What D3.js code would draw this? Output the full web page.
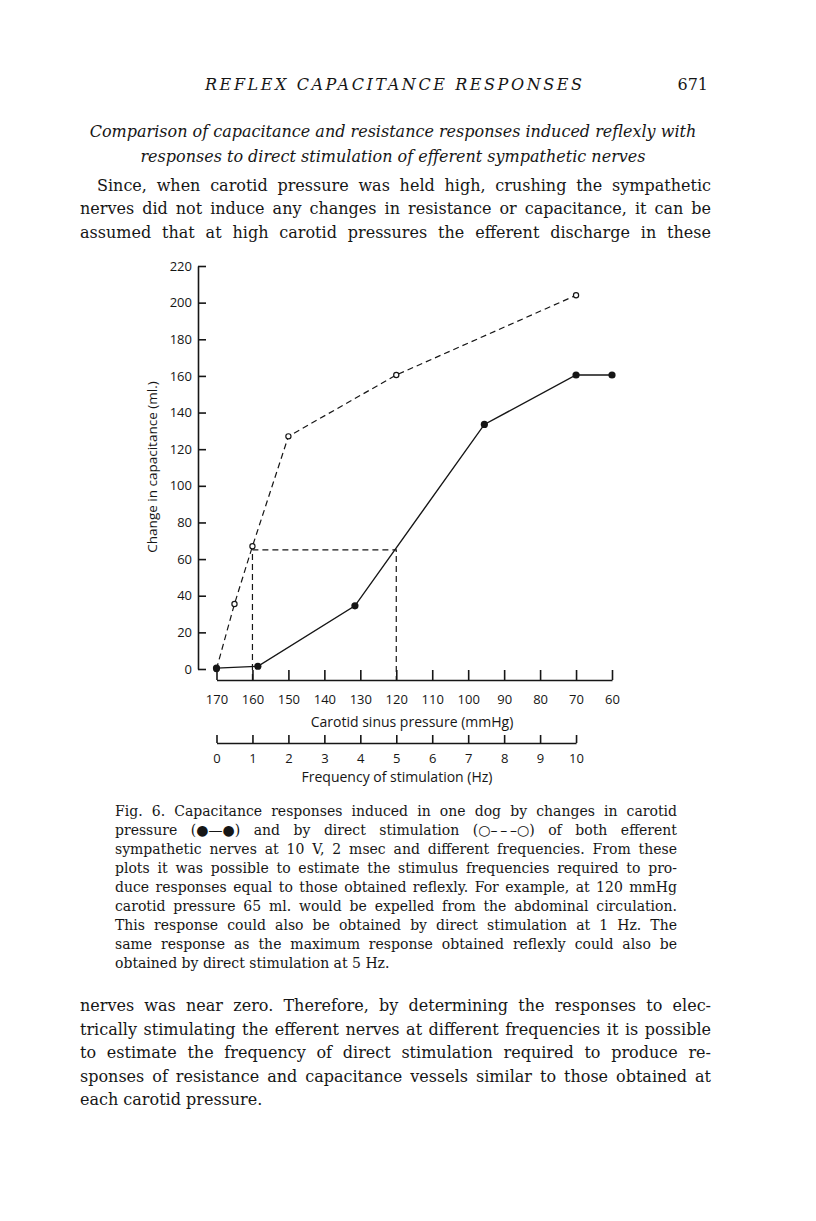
<!DOCTYPE html>
<html>
<head>
<meta charset="utf-8">
<script src="https://cdn.jsdelivr.net/npm/d3@7"></script>
<style>
  body { margin: 0; background: #fff; }
  svg text { fill: #161616; }
</style>
</head>
<body>
<div id="page"></div>
<script>
// values
const pressureMmHg = [170, 158.5, 131.5, 95.5, 70, 60];
const reflexCapacitance = [0.5, 1.5, 34.5, 133.5, 160.5, 160.5];
const stimFrequencyHz = [0, 0.5, 1, 2, 5, 10];
const stimCapacitance = [0, 35.5, 67, 127, 160.5, 204];
const guidePressures = [160, 120];
const guideCapacitance = 65;

const capacitanceTicks = [0, 20, 40, 60, 80, 100, 120, 140, 160, 180, 200, 220];
const pressureTicks = [170, 160, 150, 140, 130, 120, 110, 100, 90, 80, 70, 60];
const frequencyTicks = [0, 1, 2, 3, 4, 5, 6, 7, 8, 9, 10];

// page text
const runningHead = "REFLEX CAPACITANCE RESPONSES";
const pageNumber = "671";
const sectionHeading = [
  "Comparison of capacitance and resistance responses induced reflexly with",
  "responses to direct stimulation of efferent sympathetic nerves",
];
const textAbove = [
  "Since, when carotid pressure was held high, crushing the sympathetic",
  "nerves did not induce any changes in resistance or capacitance, it can be",
  "assumed that at high carotid pressures the efferent discharge in these",
];
const captionLines = [
  "Fig. 6. Capacitance responses induced in one dog by changes in carotid",
  "pressure (\u25CF\u2014\u25CF) and by direct stimulation (\u25CB\u2013\u2009\u2013\u2009\u2013\u25CB) of both efferent",
  "sympathetic nerves at 10 V, 2 msec and different frequencies. From these",
  "plots it was possible to estimate the stimulus frequencies required to pro-",
  "duce responses equal to those obtained reflexly. For example, at 120 mmHg",
  "carotid pressure 65 ml. would be expelled from the abdominal circulation.",
  "This response could also be obtained by direct stimulation at 1 Hz. The",
  "same response as the maximum response obtained reflexly could also be",
  "obtained by direct stimulation at 5 Hz.",
];
const textBelow = [
  "nerves was near zero. Therefore, by determining the responses to elec-",
  "trically stimulating the efferent nerves at different frequencies it is possible",
  "to estimate the frequency of direct stimulation required to produce re-",
  "sponses of resistance and capacitance vessels similar to those obtained at",
  "each carotid pressure.",
];

const serif = "'DejaVu Serif', 'Liberation Serif', serif";
const sans = "'Open Sans', Lato, sans-serif";

const svg = d3
  .select("#page")
  .append("svg")
  .attr("width", 816)
  .attr("height", 1221);

// justified block: pick a size so the tightest line just fits, then stretch word gaps
function textBlock(lines, o) {
  const probe = 20;
  const nodes = lines.map((line, i) =>
    svg
      .append("text")
      .attr("x", o.left + (i === 0 ? o.indent || 0 : 0))
      .attr("y", o.top + i * o.lead)
      .attr("font-family", serif)
      .attr("font-size", probe)
      .text(line)
  );
  const justified = (i) => !(o.raggedLast && i === lines.length - 1);
  let k = Infinity;
  nodes.forEach((t, i) => {
    if (!justified(i)) return;
    const room = o.right - +t.attr("x");
    k = Math.min(k, room / t.node().getComputedTextLength());
  });
  const size = Math.min(probe * k * 0.99, o.maxSize);
  nodes.forEach((t, i) => {
    t.attr("font-size", size);
    if (!justified(i)) return;
    const gaps = lines[i].split(" ").length - 1;
    const w = t.node().getComputedTextLength();
    t.style("word-spacing", (o.right - +t.attr("x") - w) / gaps + "px");
  });
}

// header
svg
  .append("text")
  .attr("x", 205)
  .attr("y", 90)
  .attr("font-family", serif)
  .attr("font-style", "italic")
  .attr("font-size", 16)
  .attr("textLength", 377)
  .attr("lengthAdjust", "spacing")
  .text(runningHead);
svg
  .append("text")
  .attr("x", 708)
  .attr("y", 90)
  .attr("text-anchor", "end")
  .attr("font-family", serif)
  .attr("font-size", 16)
  .text(pageNumber);

svg
  .selectAll(".heading")
  .data(sectionHeading)
  .join("text")
  .attr("class", "heading")
  .attr("x", 393)
  .attr("y", (d, i) => 137 + i * 25)
  .attr("text-anchor", "middle")
  .attr("font-family", serif)
  .attr("font-style", "italic")
  .attr("font-size", 16)
  .text((d) => d);

textBlock(textAbove, { left: 80, right: 711, indent: 17, top: 190.5, lead: 23.5, maxSize: 16 });

// ---- the chart ----
const x = d3.scaleLinear().domain([170, 60]).range([216.5, 612]);
const xHz = d3.scaleLinear().domain([0, 10]).range([x(170), x(70)]);
const y = d3.scaleLinear().domain([0, 220]).range([669, 266]);

const yAxisX = 198;
const pressureAxisY = 680;
const freqAxisY = 743;

const chart = svg.append("g").attr("fill", "none").attr("stroke", "#161616");

const yAxis = svg
  .append("g")
  .attr("transform", `translate(${yAxisX},0)`)
  .call(
    d3.axisLeft(y).tickValues(capacitanceTicks).tickSizeInner(-8).tickSizeOuter(0).tickPadding(6)
  );

const pAxis = svg
  .append("g")
  .attr("transform", `translate(0,${pressureAxisY})`)
  .call(
    d3.axisBottom(x).tickValues(pressureTicks).tickSizeInner(-10).tickSizeOuter(0).tickPadding(15)
  );

const fAxis = svg
  .append("g")
  .attr("transform", `translate(0,${freqAxisY})`)
  .call(
    d3.axisBottom(xHz).tickValues(frequencyTicks).tickSizeInner(-8).tickSizeOuter(0).tickPadding(11)
  );

[yAxis, pAxis, fAxis].forEach((g) => {
  g.selectAll("path, line").attr("stroke", "#161616").attr("stroke-width", 1.6);
  g.selectAll("text").attr("font-family", sans).attr("font-size", 13).attr("fill", "#161616");
});

svg
  .append("text")
  .attr("transform", "translate(157,467) rotate(-90)")
  .attr("text-anchor", "middle")
  .attr("font-family", sans)
  .attr("font-size", 13.5)
  .text("Change in capacitance (ml.)");
svg
  .append("text")
  .attr("x", 412)
  .attr("y", 727)
  .attr("text-anchor", "middle")
  .attr("font-family", sans)
  .attr("font-size", 14)
  .text("Carotid sinus pressure (mmHg)");
svg
  .append("text")
  .attr("x", 397)
  .attr("y", 782)
  .attr("text-anchor", "middle")
  .attr("font-family", sans)
  .attr("font-size", 14)
  .text("Frequency of stimulation (Hz)");

// guide lines for the 65 ml example
chart
  .append("path")
  .attr("stroke-dasharray", "6,4")
  .attr("stroke-width", 1.2)
  .attr(
    "d",
    `M${x(guidePressures[0])},${pressureAxisY}V${y(guideCapacitance)}H${x(guidePressures[1])}V${pressureAxisY}`
  );

const stim = stimFrequencyHz.map((f, i) => [xHz(f), y(stimCapacitance[i])]);
const reflex = pressureMmHg.map((p, i) => [x(p), y(reflexCapacitance[i])]);

chart
  .append("path")
  .attr("stroke-dasharray", "6,4")
  .attr("stroke-width", 1.2)
  .attr("d", d3.line()(stim));

chart
  .append("path")
  .attr("stroke-width", 1.4)
  .attr("d", d3.line()(reflex));

chart
  .selectAll(".open")
  .data(stim)
  .join("circle")
  .attr("class", "open")
  .attr("cx", (d) => d[0])
  .attr("cy", (d) => d[1])
  .attr("r", 2.6)
  .attr("fill", "#fff")
  .attr("stroke-width", 1.2);

chart
  .selectAll(".filled")
  .data(reflex)
  .join("circle")
  .attr("class", "filled")
  .attr("cx", (d) => d[0])
  .attr("cy", (d) => d[1])
  .attr("r", 3.6)
  .attr("fill", "#161616")
  .attr("stroke", "none");

// caption and following text
textBlock(captionLines, { left: 115, right: 677, top: 815.5, lead: 19.1, maxSize: 14, raggedLast: true });
textBlock(textBelow, { left: 80, right: 711, top: 1011, lead: 23.5, maxSize: 16, raggedLast: true });
</script>
</body>
</html>
